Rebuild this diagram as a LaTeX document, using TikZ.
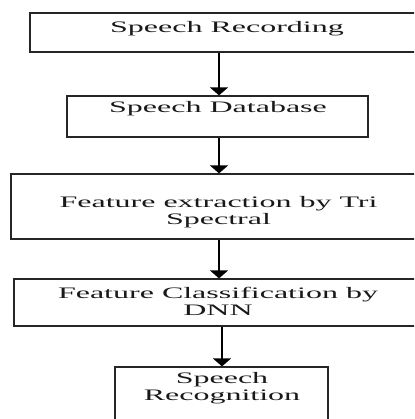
\documentclass[tikz,border=0pt]{standalone}
\usepackage{fontspec}
\newfontfamily\boxfont[FakeStretch=2.0]{Liberation Serif}
\usetikzlibrary{arrows.meta}
\begin{document}
\begin{tikzpicture}[x=1pt,y=1pt,
  box/.style={draw=black!85, line width=1.2pt, rectangle, inner sep=0pt, fill=white},
  label/.style={inner sep=0pt, anchor=base, align=center, text=black!90,
    font=\boxfont\fontsize{16}{16.5}\selectfont},
  arr/.style={line width=1.6pt, black, -{Triangle[width=18pt,length=8pt]}}]
\useasboundingbox (0,0) rectangle (414,-419);
\clip (0,0) rectangle (414,-419);
\fill[white] (0,0) rectangle (414,-419);
% boxes
\node[box, minimum width=410pt, minimum height=39pt] (b1) at (235,-32.5) {};
\node[box, minimum width=301pt, minimum height=41pt] (b2) at (217.5,-116.5) {};
\node[box, minimum width=429pt, minimum height=65pt] (b3) at (225.5,-206.5) {};
\node[box, minimum width=426pt, minimum height=47pt] (b4) at (227,-302.5) {};
\node[box, minimum width=213pt, minimum height=73pt] (b5) at (221.5,-403.5) {};
% texts (base anchor = baseline of the last line)
\node[label] (t1) at (227,-32.5) {Speech Recording};
\node[label] (t2) at (218,-112.5) {Speech Database};
\node[label] (t3) at (218.5,-224) {Feature extraction by Tri\\Spectral};
\node[label] (t4) at (218,-315) {Feature Classification by\\DNN};
\node[label] (t5) at (222,-400) {Speech\\Recognition};
% arrows
\coordinate (ax1) at (219,0);
\coordinate (ax4) at (222,0);
\draw[arr] (b1.south -| ax1) -- (b2.north -| ax1);
\draw[arr] (b2.south -| ax1) -- (b3.north -| ax1);
\draw[arr] (b3.south -| ax1) -- (b4.north -| ax1);
\draw[arr] (b4.south -| ax4) -- (b5.north -| ax4);
\end{tikzpicture}
\end{document}
